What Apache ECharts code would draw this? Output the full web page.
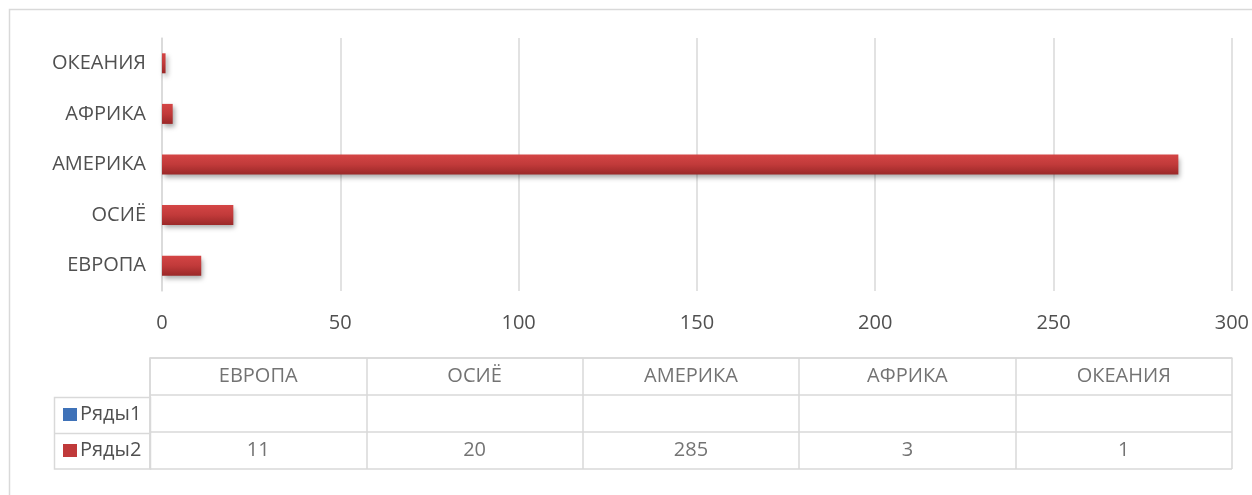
<!DOCTYPE html>
<html><head><meta charset="utf-8">
<script src="https://cdn.jsdelivr.net/npm/echarts@6/dist/echarts.min.js"></script>
<style>html,body{margin:0;padding:0;background:#fff}#c{width:1252px;height:495px}</style>
</head><body><div id="c"></div>
<script>
const categories = ['ЕВРОПА', 'ОСИЁ', 'АМЕРИКА', 'АФРИКА', 'ОКЕАНИЯ'];
const series1Name = 'Ряды1';
const series2Name = 'Ряды2';
const series1Values = [null, null, null, null, null];
const series2Values = [11, 20, 285, 3, 1];
const xTicks = [0, 50, 100, 150, 200, 250, 300];
const tableRows = ['Ряды2', 'Ряды1', ''];

const FONT = '"Open Sans", "Liberation Sans", sans-serif';
const FS = 20;
const TXT = '#505050';
const LINE = '#d9d9d9';
const blue = '#3f72b8';
const red = '#c0393a';

const chart = echarts.init(document.getElementById('c'));
const barGrad = new echarts.graphic.LinearGradient(0, 0, 0, 1, [
  {offset: 0, color: '#d44545'}, {offset: 0.5, color: '#c13a3a'}, {offset: 1, color: '#9a2828'}
]);

const tableCells = [];
categories.forEach((c, i) => {
  tableCells.push({value: [c, ''], label: c});
  tableCells.push({value: [c, 'Ряды2'], label: series2Values[i] == null ? '' : String(series2Values[i])});
});

chart.setOption({
  animation: false,
  textStyle: {fontFamily: FONT},
  grid: [
    {left: 162, right: 20, top: 38, bottom: 204},
    {left: 150, right: 20, top: 358, height: 111, show: false}
  ],
  legend: {
    orient: 'vertical', left: 63, top: 404, itemGap: 15, padding: 0,
    itemWidth: 14, itemHeight: 13, icon: 'rect',
    textStyle: {color: TXT, fontSize: FS, lineHeight: 21, fontFamily: FONT, padding: [0, 0, 0, -2]},
    data: [{name: series1Name, itemStyle: {color: blue}}, {name: series2Name, itemStyle: {color: red}}]
  },
  xAxis: [
    {type: 'value', gridIndex: 0, min: xTicks[0], max: xTicks[xTicks.length - 1], interval: 50,
     axisLine: {show: false}, axisTick: {show: false},
     axisLabel: {color: TXT, fontSize: FS, margin: 22, fontFamily: FONT},
     splitLine: {show: true, lineStyle: {color: LINE, width: 1.5}}},
    {type: 'category', gridIndex: 1, data: categories, boundaryGap: true,
     axisLine: {show: true, lineStyle: {color: LINE, width: 1.5}}, axisTick: {show: false}, axisLabel: {show: false},
     splitLine: {show: true, lineStyle: {color: LINE, width: 1.5}}, position: 'top'}
  ],
  yAxis: [
    {type: 'category', gridIndex: 0, data: categories,
     axisLine: {show: true, lineStyle: {color: LINE, width: 1.5}}, axisTick: {show: false},
     axisLabel: {color: TXT, fontSize: FS, margin: 16, fontFamily: FONT}},
    {type: 'category', gridIndex: 1, data: tableRows, boundaryGap: true,
     axisLine: {show: true, lineStyle: {color: LINE, width: 1.5}}, axisTick: {show: false}, axisLabel: {show: false},
     splitLine: {show: true, lineStyle: {color: LINE, width: 1.5}}}
  ],
  series: [
    {name: series1Name, type: 'bar', xAxisIndex: 0, yAxisIndex: 0, data: series1Values,
     itemStyle: {color: blue}, barWidth: 20},
    {name: series2Name, type: 'bar', xAxisIndex: 0, yAxisIndex: 0, data: series2Values,
     barGap: '-100%', barWidth: 20,
     itemStyle: {color: barGrad, shadowColor: 'rgba(0,0,0,0.35)', shadowBlur: 5, shadowOffsetX: 2, shadowOffsetY: 3}},
    {type: 'scatter', xAxisIndex: 1, yAxisIndex: 1, symbolSize: 0, data: tableCells, silent: true,
     label: {show: true, position: 'inside', color: TXT, fontSize: FS, fontFamily: FONT,
       formatter: p => p.data.label}}
  ],
  graphic: [
    {type: 'rect', shape: {x: 9.5, y: 9.5, width: 1300, height: 600}, style: {fill: 'none', stroke: LINE, lineWidth: 1.5}, silent: true},
    {type: 'rect', shape: {x: 54.5, y: 397.5, width: 96, height: 71.5}, style: {fill: 'none', stroke: LINE, lineWidth: 1.5}, silent: true},
    {type: 'line', shape: {x1: 54.5, y1: 433.5, x2: 150, y2: 433.5}, style: {stroke: LINE, lineWidth: 1.5}, silent: true}
  ]
});
</script></body></html>
